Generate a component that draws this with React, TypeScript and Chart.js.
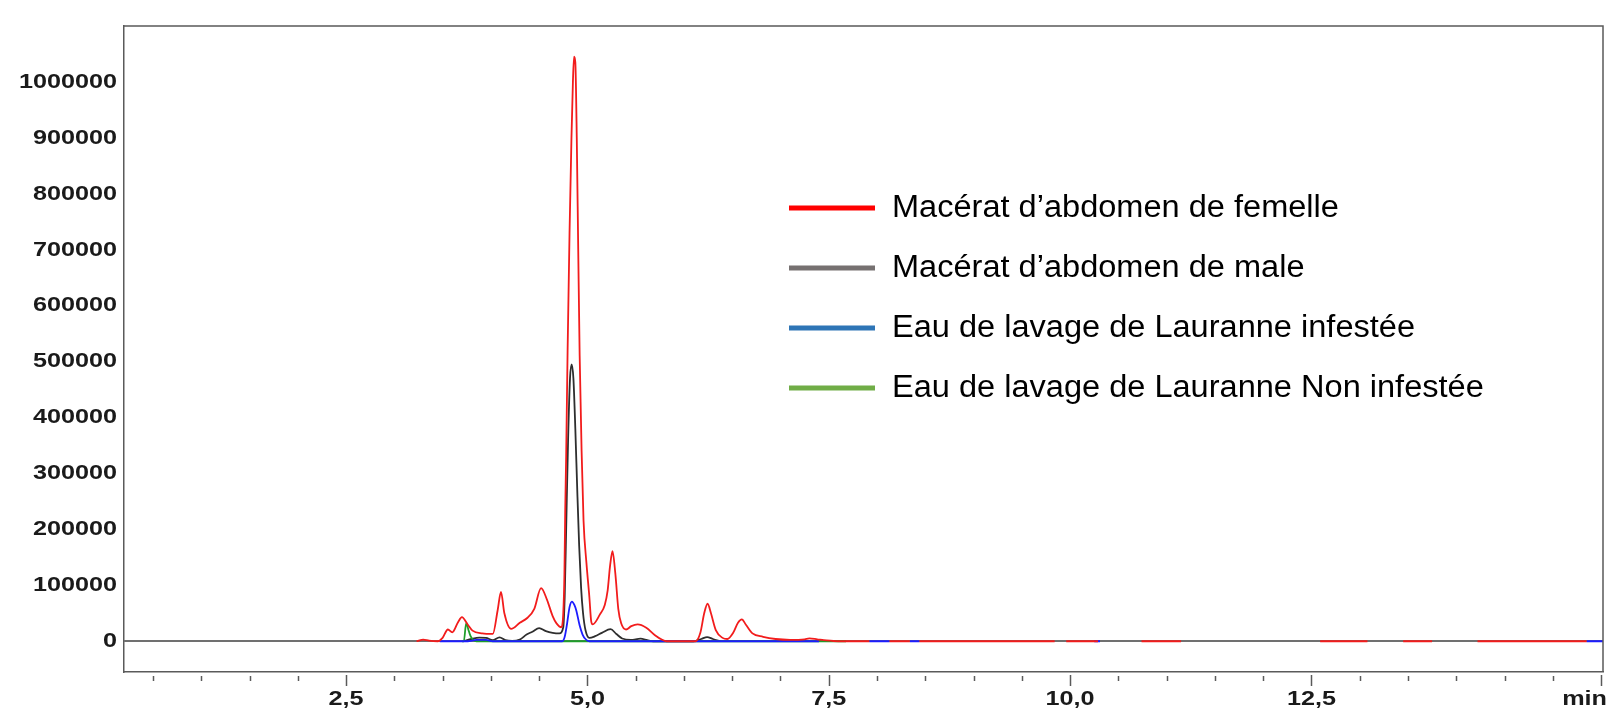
import React, { useEffect, useRef } from "react";
import { Chart, registerables } from "chart.js";

Chart.register(...registerables);

// ---- Data (retention time in min, intensity) ----
const FEMALE_T = [3.23, 3.3, 3.36, 3.45, 3.5, 3.555, 3.6, 3.66, 3.7, 3.76, 3.81, 3.91, 4.02, 4.07, 4.105, 4.14, 4.21, 4.3, 4.38, 4.45, 4.52, 4.58, 4.64, 4.68, 4.73, 4.75, 4.762, 4.77, 4.78, 4.795, 4.815, 4.835, 4.85, 4.862, 4.875, 4.89, 4.905, 4.92, 4.94, 4.96, 4.99, 5.02, 5.04, 5.055, 5.13, 5.18, 5.21, 5.235, 5.26, 5.29, 5.32, 5.35, 5.4, 5.455, 5.52, 5.61, 5.7, 5.77, 5.82, 6.12, 6.17, 6.21, 6.245, 6.28, 6.33, 6.4, 6.45, 6.51, 6.56, 6.6, 6.64, 6.71, 6.82, 6.95, 7.1, 7.25, 7.3, 7.38, 7.45, 7.6, 7.92, 7.93, 8.13, 8.34, 8.35, 8.44, 9.84, 9.85, 9.96, 10.29, 10.3, 10.74, 11.15, 11.16, 12.59, 13.08, 13.09, 13.45, 13.75, 13.76, 14.22, 15.35];
const FEMALE_V = [0, 3000, 1000, 0, 6000, 21000, 16000, 34000, 43000, 30000, 19000, 14000, 13000, 55000, 88000, 50000, 22000, 33000, 42000, 58000, 95000, 75000, 45000, 32000, 25000, 50000, 120000, 230000, 330000, 520000, 730000, 900000, 1000000, 1045000, 1035000, 900000, 700000, 510000, 340000, 216000, 140000, 80000, 35000, 30000, 48000, 65000, 91000, 135000, 161000, 120000, 58000, 32000, 21000, 27000, 30000, 24000, 10700, 3000, 0, 0, 15000, 50000, 67000, 50000, 20000, 6000, 4000, 15000, 33000, 39000, 30000, 14000, 8000, 4000, 2500, 3500, 5000, 3500, 2000, 0, 0, null, 0, 0, null, 0, 0, null, 0, 0, null, 0, 0, null, 0, 0, null, 0, 0, null, 0, 0];

const MALE_T = [3.72, 3.8, 3.88, 3.95, 4.02, 4.09, 4.15, 4.22, 4.3, 4.37, 4.43, 4.5, 4.57, 4.64, 4.71, 4.75, 4.765, 4.78, 4.8, 4.82, 4.837, 4.855, 4.875, 4.895, 4.915, 4.935, 4.955, 4.98, 5.02, 5.08, 5.15, 5.24, 5.3, 5.36, 5.45, 5.55, 5.62, 5.68, 6.1, 6.18, 6.24, 6.3, 6.38];
const MALE_V = [0, 4000, 6500, 6000, 2000, 7000, 2000, 500, 3000, 12000, 17000, 23500, 18000, 15000, 14000, 25000, 80000, 200000, 360000, 470000, 495000, 470000, 380000, 270000, 170000, 95000, 50000, 20000, 6000, 9000, 15000, 21500, 13000, 5000, 2500, 4500, 2000, 0, 0, 4000, 7500, 4000, 0];

const INFESTED_T = [3.47, 3.76, 3.85, 3.95, 4.02, 4.74, 4.765, 4.79, 4.815, 4.84, 4.865, 4.885, 4.92, 4.95, 4.98, 5.02, 7.4, 7.41, 7.92, 8.13, 8.14, 8.34, 8.44, 8.45, 10.25, 10.31, 10.32, 15.35, 15.52];
const INFESTED_V = [0, 0, 2500, 2500, 0, 0, 8000, 32000, 61000, 71000, 65000, 55000, 28000, 12000, 4000, 0, 0, null, 0, 0, null, 0, 0, null, 0, 0, null, 0, 0];

const CLEAN_T = [3.7, 3.72, 3.745, 3.765, 3.79, 3.82, 3.85, 7.68];
const CLEAN_V = [0, 0, 33000, 22000, 9000, 2000, 0, 0];

const SERIES_NAMES = [
  "Macérat d’abdomen de femelle",
  "Macérat d’abdomen de male",
  "Eau de lavage de Lauranne infestée",
  "Eau de lavage de Lauranne Non infestée",
];
const LEGEND_COLORS = ["#ff0000", "#767171", "#2e75b6", "#70ad47"];
const TRACE_COLORS = ["#f21c1c", "#2e2e2e", "#1c1cff", "#1f9e2a"];

const Y_TICKS = [0, 100000, 200000, 300000, 400000, 500000, 600000, 700000, 800000, 900000, 1000000];
const X_LABELS: [number, string][] = [[2.5, "2,5"], [5, "5,0"], [7.5, "7,5"], [10, "10,0"], [12.5, "12,5"], [15.5, "min"]];
const X_MIN = 0.2;
const X_MAX = 15.52;
const Y_MIN = -55000;
const Y_MAX = 1100000;

function pts(t: number[], v: (number | null)[]) {
  return t.map((x, i) => ({ x, y: v[i] }));
}

function stretchedText(ctx: CanvasRenderingContext2D, text: string, x: number, y: number, align: string, font: string, sx: number) {
  ctx.save();
  ctx.font = font;
  const w = ctx.measureText(text).width * sx;
  let left = x;
  if (align === "right") left = x - w;
  else if (align === "center") left = x - w / 2;
  ctx.translate(left, y);
  ctx.scale(sx, 1);
  ctx.textAlign = "left";
  ctx.textBaseline = "middle";
  ctx.fillText(text, 0, 0);
  ctx.restore();
}

const decorPlugin = {
  id: "decor",
  beforeDatasetsDraw(chart: any) {
    const ctx: CanvasRenderingContext2D = chart.ctx;
    const { left, right } = chart.chartArea;
    const y0 = Math.round(chart.scales.y.getPixelForValue(0));
    ctx.save();
    ctx.strokeStyle = "#707070";
    ctx.lineWidth = 2;
    ctx.beginPath();
    ctx.moveTo(left, y0);
    ctx.lineTo(right, y0);
    ctx.stroke();
    ctx.restore();
  },
  afterDraw(chart: any) {
    const ctx: CanvasRenderingContext2D = chart.ctx;
    const { left, right, top, bottom } = chart.chartArea;
    const xs = chart.scales.x;
    const ys = chart.scales.y;
    ctx.save();
    // frame top/right
    ctx.strokeStyle = "#5a5a5a";
    ctx.lineWidth = 1.5;
    ctx.beginPath();
    ctx.moveTo(left, top);
    ctx.lineTo(right, top);
    ctx.lineTo(right, bottom);
    ctx.stroke();
    // x tick marks
    const majors = X_LABELS.map((d) => d[0]);
    for (let k = 1; k <= 31; k++) {
      const v = k * 0.5;
      const px = Math.round(xs.getPixelForValue(v)) + 0.5;
      const major = majors.includes(v);
      ctx.beginPath();
      ctx.moveTo(px, bottom + (major ? 3 : 4));
      ctx.lineTo(px, bottom + (major ? 14 : 9));
      ctx.stroke();
    }
    // labels
    ctx.fillStyle = "#1a1a1a";
    const tickFont = "bold 21px 'Liberation Sans', Arial, sans-serif";
    const sx = 1.2;
    Y_TICKS.forEach((v) => {
      stretchedText(ctx, String(v), left - 7, ys.getPixelForValue(v), "right", tickFont, sx);
    });
    X_LABELS.forEach(([v, lab]) => {
      ctx.font = tickFont;
      const w = ctx.measureText(lab).width * sx;
      let cx = xs.getPixelForValue(v);
      cx = Math.min(cx, chart.width - 1 - w / 2);
      stretchedText(ctx, lab, cx, bottom + 27, "center", tickFont, sx);
    });
    // legend
    const legendFont = "31px 'Liberation Sans', Arial, sans-serif";
    SERIES_NAMES.forEach((name, i) => {
      const y = 208 + i * 60;
      ctx.strokeStyle = LEGEND_COLORS[i];
      ctx.lineWidth = 5;
      ctx.beginPath();
      ctx.moveTo(789, y);
      ctx.lineTo(875, y);
      ctx.stroke();
      ctx.fillStyle = "#000";
      stretchedText(ctx, name, 892, y, "left", legendFont, 1.05);
    });
    ctx.restore();
  },
};

export default function App() {
  const ref = useRef<HTMLCanvasElement | null>(null);
  useEffect(() => {
    document.body.style.margin = "0";
    document.body.style.overflow = "hidden";
    const canvas = ref.current;
    if (!canvas) return;
    const mk = (label: string, t: number[], v: (number | null)[], color: string, order: number) => ({
      label,
      data: pts(t, v),
      borderColor: color,
      backgroundColor: color,
      borderWidth: 1.8,
      pointRadius: 0,
      fill: false,
      spanGaps: false,
      cubicInterpolationMode: "monotone" as const,
      order,
    });
    const chart = new Chart(canvas, {
      type: "line",
      data: {
        datasets: [
          mk(SERIES_NAMES[0], FEMALE_T, FEMALE_V, TRACE_COLORS[0], 1),
          mk(SERIES_NAMES[1], MALE_T, MALE_V, TRACE_COLORS[1], 4),
          mk(SERIES_NAMES[2], INFESTED_T, INFESTED_V, TRACE_COLORS[2], 2),
          mk(SERIES_NAMES[3], CLEAN_T, CLEAN_V, TRACE_COLORS[3], 3),
        ],
      },
      options: {
        responsive: false,
        animation: false,
        events: [],
        layout: { padding: { top: 26, right: 5, left: 0, bottom: 0 } },
        plugins: { legend: { display: false }, tooltip: { enabled: false }, title: { display: false } },
        scales: {
          x: {
            type: "linear",
            min: X_MIN,
            max: X_MAX,
            ticks: { display: false },
            grid: { display: false },
            border: { display: true, color: "#5a5a5a", width: 1.5 },
            afterFit: (s: any) => { s.height = 40; },
          },
          y: {
            type: "linear",
            min: Y_MIN,
            max: Y_MAX,
            ticks: { display: false, stepSize: 100000 },
            grid: { display: false },
            border: { display: true, color: "#5a5a5a", width: 1.5 },
            afterFit: (s: any) => { s.width = 124; },
          },
        },
      },
      plugins: [decorPlugin],
    });
    return () => chart.destroy();
  }, []);
  return (
    <div style={{ width: 1608, height: 712, background: "#fff" }}>
      <canvas ref={ref} width={1608} height={712} />
    </div>
  );
}
